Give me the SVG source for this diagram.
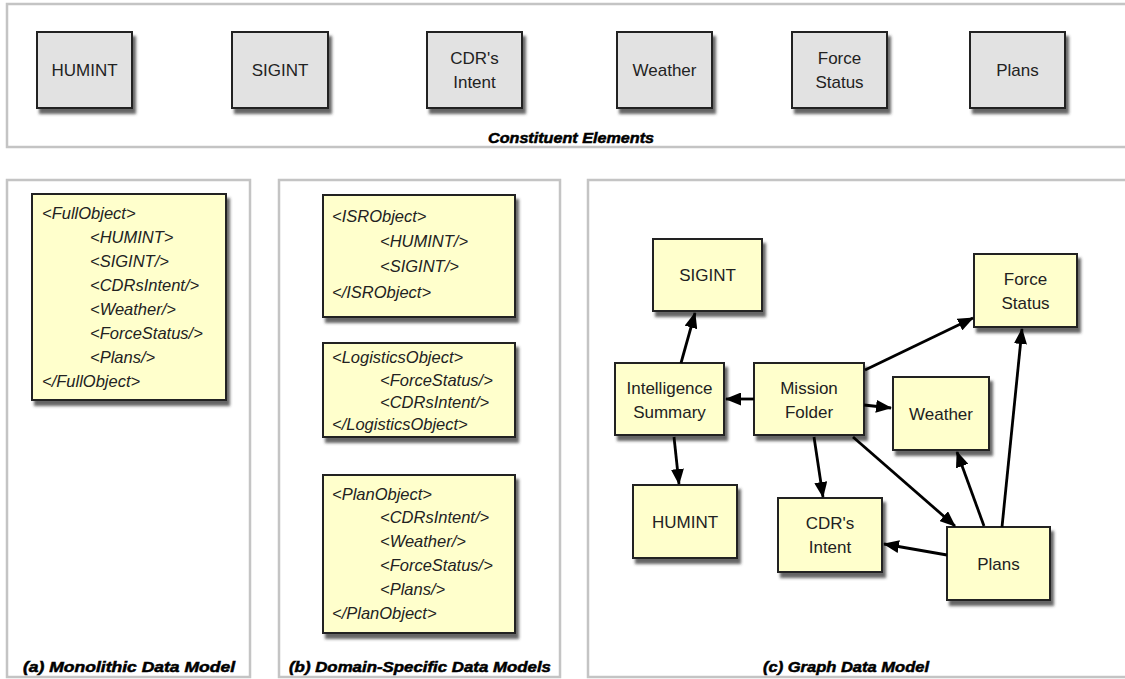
<svg xmlns="http://www.w3.org/2000/svg" width="1125" height="679" viewBox="0 0 1125 679">
  <defs>
    <filter id="shadow" x="-10%" y="-10%" width="130%" height="140%">
      <feDropShadow dx="3" dy="5" stdDeviation="1.6" flood-color="#333" flood-opacity="0.75"/>
    </filter>
    <marker id="arrow" markerUnits="userSpaceOnUse" markerWidth="16" markerHeight="13" refX="15" refY="6.5" orient="auto">
      <path d="M0,0 L16,6.5 L0,13 z" fill="#000"/>
    </marker>
  </defs>
  <style>
    .panel { fill: #fff; stroke: #c4c4c4; stroke-width: 2.5; }
    .elem { fill: #e2e2e2; stroke: #222; stroke-width: 2; filter: url(#shadow); }
    .note { fill: #ffffcc; stroke: #222; stroke-width: 2; filter: url(#shadow); }
    .lbl { font-family: "Liberation Sans", Arial, sans-serif; font-size: 17px; fill: #222; text-anchor: middle; }
    .xml { font-family: "Liberation Sans", Arial, sans-serif; font-size: 16.5px; font-style: italic; fill: #222; }
    .cap { font-family: "Liberation Sans", Arial, sans-serif; font-size: 14.5px; font-style: italic; font-weight: bold; fill: #000; stroke: #000; stroke-width: 0.5; text-anchor: middle; }
    .conn line { stroke: #000; stroke-width: 2.8; marker-end: url(#arrow); }
  </style>

  <rect x="0" y="0" width="1125" height="679" fill="#fff"/>

  <!-- panel frames -->
  <rect class="panel" x="7" y="4" width="1125" height="143"/>
  <rect class="panel" x="7" y="180" width="243" height="497"/>
  <rect class="panel" x="279" y="180" width="281" height="497"/>
  <rect class="panel" x="588" y="180" width="540" height="497"/>

  <!-- constituent elements -->
  <g id="el-humint"><rect class="elem" x="37" y="32" width="95" height="76"/><text class="lbl" x="84.5" y="76">HUMINT</text></g>
  <g id="el-sigint"><rect class="elem" x="232" y="32" width="96" height="76"/><text class="lbl" x="280" y="76">SIGINT</text></g>
  <g id="el-intent"><rect class="elem" x="427" y="32" width="95" height="76"/><text class="lbl" x="474.5" y="64">CDR's</text><text class="lbl" x="474.5" y="88">Intent</text></g>
  <g id="el-weather"><rect class="elem" x="617" y="32" width="95" height="76"/><text class="lbl" x="664.5" y="76">Weather</text></g>
  <g id="el-force"><rect class="elem" x="792" y="32" width="95" height="76"/><text class="lbl" x="839.5" y="64">Force</text><text class="lbl" x="839.5" y="88">Status</text></g>
  <g id="el-plans"><rect class="elem" x="970" y="32" width="95" height="76"/><text class="lbl" x="1017.5" y="76">Plans</text></g>
  <text class="cap" x="571" y="143" textLength="166" lengthAdjust="spacingAndGlyphs">Constituent Elements</text>

  <!-- (a) monolithic model -->
  <g id="full-object">
    <rect class="note" x="32" y="194" width="194" height="206"/>
    <text class="xml" x="42" y="219">&lt;FullObject&gt;</text>
    <text class="xml" x="90" y="243">&lt;HUMINT&gt;</text>
    <text class="xml" x="90" y="267">&lt;SIGINT/&gt;</text>
    <text class="xml" x="90" y="291">&lt;CDRsIntent/&gt;</text>
    <text class="xml" x="90" y="315">&lt;Weather/&gt;</text>
    <text class="xml" x="90" y="339">&lt;ForceStatus/&gt;</text>
    <text class="xml" x="90" y="363">&lt;Plans/&gt;</text>
    <text class="xml" x="42" y="387">&lt;/FullObject&gt;</text>
  </g>
  <text class="cap" x="129" y="672" textLength="212" lengthAdjust="spacingAndGlyphs">(a) Monolithic Data Model</text>

  <!-- (b) domain-specific models -->
  <g id="isr-object">
    <rect class="note" x="323" y="195" width="192" height="122"/>
    <text class="xml" x="332" y="222">&lt;ISRObject&gt;</text>
    <text class="xml" x="380" y="247">&lt;HUMINT/&gt;</text>
    <text class="xml" x="380" y="272">&lt;SIGINT/&gt;</text>
    <text class="xml" x="332" y="298">&lt;/ISRObject&gt;</text>
  </g>
  <g id="logistics-object">
    <rect class="note" x="323" y="343" width="192" height="94"/>
    <text class="xml" x="332" y="363">&lt;LogisticsObject&gt;</text>
    <text class="xml" x="380" y="386">&lt;ForceStatus/&gt;</text>
    <text class="xml" x="380" y="408">&lt;CDRsIntent/&gt;</text>
    <text class="xml" x="332" y="430">&lt;/LogisticsObject&gt;</text>
  </g>
  <g id="plan-object">
    <rect class="note" x="323" y="475" width="192" height="158"/>
    <text class="xml" x="332" y="500">&lt;PlanObject&gt;</text>
    <text class="xml" x="380" y="523">&lt;CDRsIntent/&gt;</text>
    <text class="xml" x="380" y="547">&lt;Weather/&gt;</text>
    <text class="xml" x="380" y="571">&lt;ForceStatus/&gt;</text>
    <text class="xml" x="380" y="595">&lt;Plans/&gt;</text>
    <text class="xml" x="332" y="619">&lt;/PlanObject&gt;</text>
  </g>
  <text class="cap" x="420" y="672" textLength="262" lengthAdjust="spacingAndGlyphs">(b) Domain-Specific Data Models</text>

  <!-- (c) graph model: nodes -->
  <g id="g-sigint"><rect class="note" x="653" y="239" width="109" height="72"/><text class="lbl" x="707.5" y="281">SIGINT</text></g>
  <g id="g-force"><rect class="note" x="974" y="254" width="103" height="73"/><text class="lbl" x="1025.5" y="285">Force</text><text class="lbl" x="1025.5" y="309">Status</text></g>
  <g id="g-intel"><rect class="note" x="615" y="363" width="109" height="72"/><text class="lbl" x="669.5" y="394">Intelligence</text><text class="lbl" x="669.5" y="418">Summary</text></g>
  <g id="g-mission"><rect class="note" x="754" y="363" width="110" height="72"/><text class="lbl" x="809" y="394">Mission</text><text class="lbl" x="809" y="418">Folder</text></g>
  <g id="g-weather"><rect class="note" x="893" y="377" width="96" height="73"/><text class="lbl" x="941" y="420">Weather</text></g>
  <g id="g-humint"><rect class="note" x="633" y="485" width="104" height="73"/><text class="lbl" x="685" y="528">HUMINT</text></g>
  <g id="g-intent"><rect class="note" x="778" y="498" width="104" height="74"/><text class="lbl" x="830" y="529">CDR's</text><text class="lbl" x="830" y="553">Intent</text></g>
  <g id="g-plans"><rect class="note" x="947" y="527" width="103" height="73"/><text class="lbl" x="998.5" y="570">Plans</text></g>

  <!-- (c) graph model: connectors -->
  <g id="connectors" class="conn">
    <line x1="681" y1="363" x2="695" y2="313"/>
    <line x1="754" y1="399" x2="726" y2="399"/>
    <line x1="864" y1="405" x2="891" y2="408"/>
    <line x1="865" y1="370" x2="973" y2="318"/>
    <line x1="1002" y1="527" x2="1022" y2="329"/>
    <line x1="984" y1="526" x2="957" y2="452"/>
    <line x1="814" y1="437" x2="823" y2="497"/>
    <line x1="853" y1="437" x2="955" y2="526"/>
    <line x1="947" y1="555" x2="884" y2="544"/>
    <line x1="674" y1="437" x2="679" y2="484"/>
  </g>
  <text class="cap" x="846" y="672" textLength="166" lengthAdjust="spacingAndGlyphs">(c) Graph Data Model</text>
</svg>
